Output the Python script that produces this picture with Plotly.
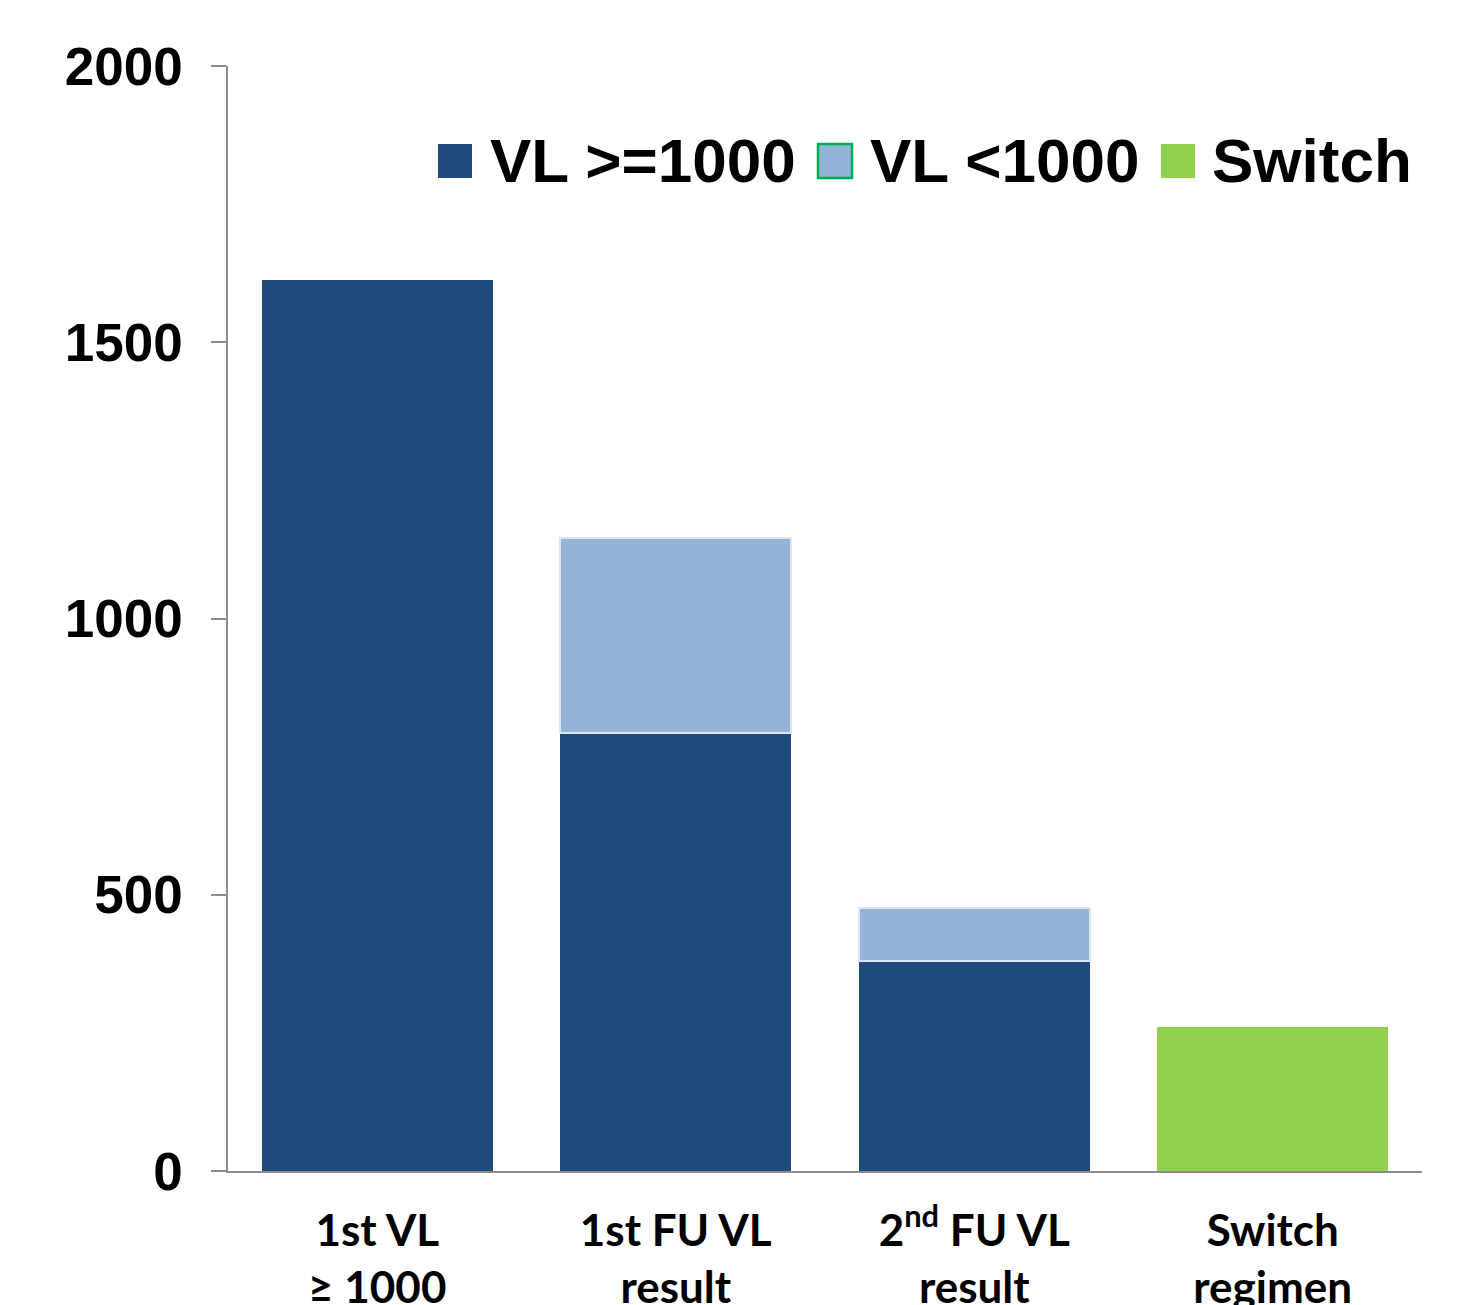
import plotly.graph_objects as go

# Categories shown along the x axis
categories = ["1st VL<br>≥ 1000", "1st FU VL<br>result", "2<sup>nd</sup> FU VL<br>result", "Switch<br>regimen"]

# Stacked series values (patients)
vl_high = [1613, 793, 380, None]
vl_low = [None, 353, 96, None]
switch = [None, None, None, 261]

series_names = ["VL >=1000", "VL <1000", "Switch"]
y_ticks = [0, 500, 1000, 1500, 2000]

DARK = "#204A7C"
LIGHT = "#95B3D7"
GREEN = "#92D050"

fig = go.Figure()
fig.add_trace(go.Bar(x=categories, y=vl_high, name=series_names[0],
                     marker=dict(color=DARK, line=dict(width=0)), showlegend=False))
fig.add_trace(go.Bar(x=categories, y=vl_low, name=series_names[1],
                     marker=dict(color=LIGHT, line=dict(color="#DCE6F2", width=2)), showlegend=False))
fig.add_trace(go.Bar(x=categories, y=switch, name=series_names[2],
                     marker=dict(color=GREEN, line=dict(width=0)), showlegend=False))

W, H = 1470, 1305
L, R, T, B = 228, 48, 66, 134
pw, ph = W - L - R, H - T - B


def px(x):
    return (x - L) / pw


def py(y):
    return (H - B - y) / ph


# Custom legend: large square swatches with bold labels
legend_items = [
    (series_names[0], DARK, None, 438, 488),
    (series_names[1], LIGHT, "#00B050", 818, 868),
    (series_names[2], GREEN, None, 1161, 1210),
]
for name, color, edge, x0, tx in legend_items:
    fig.add_shape(type="rect", xref="paper", yref="paper",
                  x0=px(x0), x1=px(x0 + 34), y0=py(178), y1=py(144),
                  fillcolor=color,
                  line=dict(color=edge if edge else color, width=2.5 if edge else 0))
    fig.add_annotation(xref="paper", yref="paper", x=px(tx), y=py(160),
                       text=name, showarrow=False, xanchor="left", yanchor="middle",
                       font=dict(family="Liberation Sans", size=62, color="black", weight="bold"))

fig.update_layout(
    width=W, height=H,
    margin=dict(l=L, r=R, t=T, b=B),
    paper_bgcolor="white", plot_bgcolor="white",
    barmode="stack", bargap=0.226,
    showlegend=False,
)
fig.update_yaxes(
    range=[0, 2000], tickvals=y_ticks, showgrid=False, zeroline=False,
    showline=True, linecolor="#8C8C8C", linewidth=1.5,
    ticks="outside", ticklen=15, tickcolor="#8C8C8C", tickwidth=1.5,
    ticklabelstandoff=18, automargin=False,
    tickfont=dict(family="Liberation Sans", size=53, color="black", weight="bold"),
)
fig.update_xaxes(
    showgrid=False, zeroline=False, showline=True, linecolor="#8C8C8C", linewidth=1.5,
    ticks="", ticklabelstandoff=20, automargin=False,
    tickfont=dict(family="Lato", size=44, color="black", weight="bold"),
)

fig.write_html("out.html")
